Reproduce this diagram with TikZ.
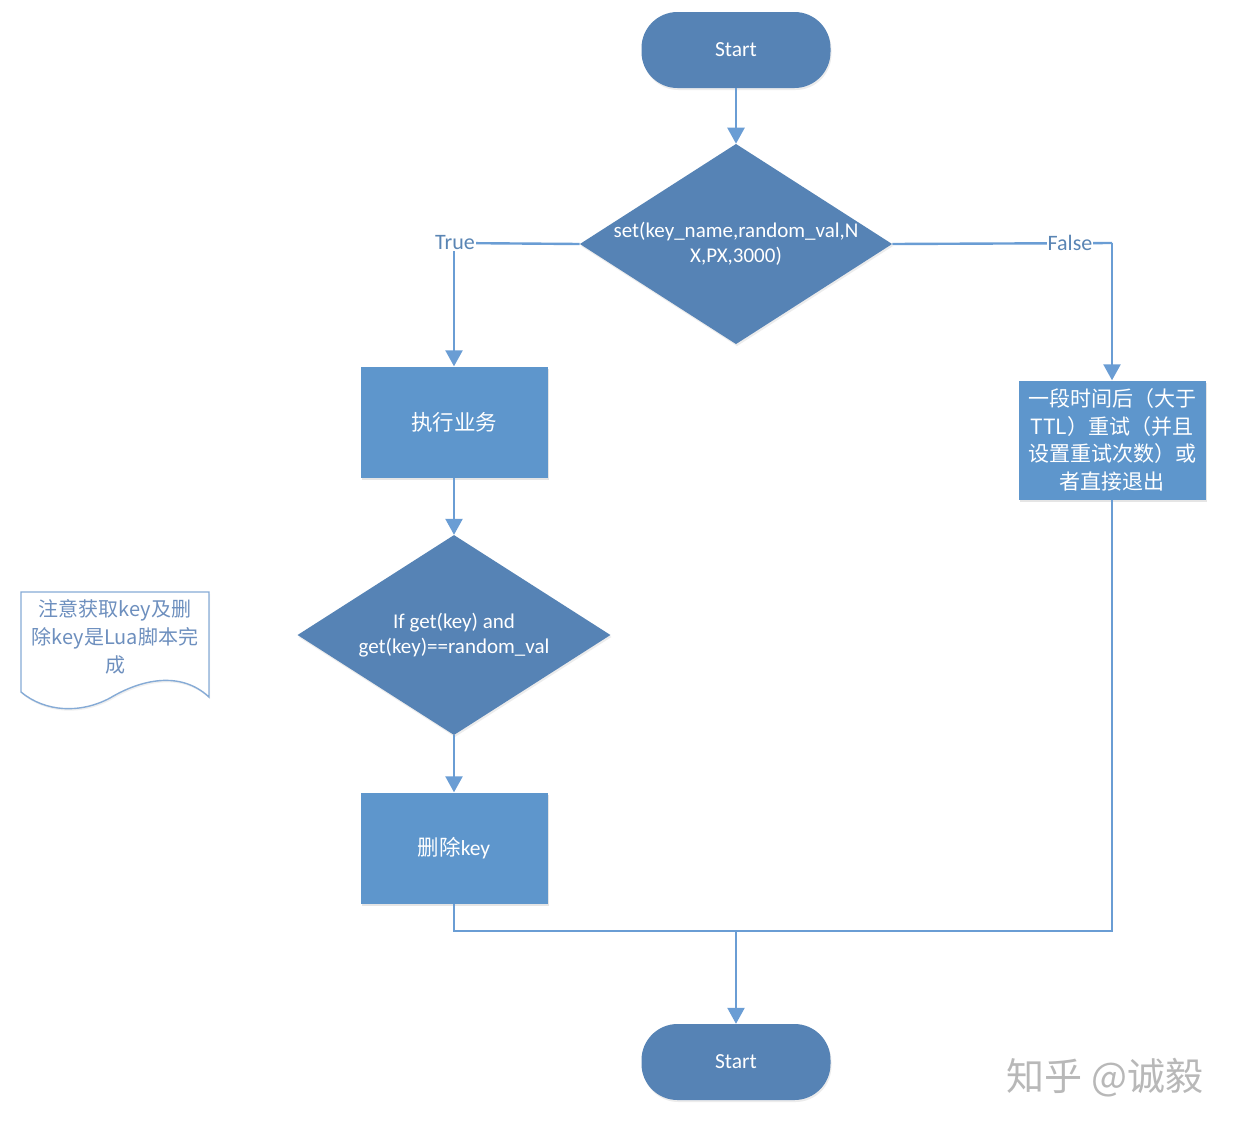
\documentclass[tikz,border=0pt]{standalone}
\usepackage{fontspec}
\setmainfont{Carlito}
\newfontfamily\cjk{Noto Sans CJK SC}
\usetikzlibrary{arrows.meta,shapes.geometric,shadows}
\definecolor{boxblue}{HTML}{5E96CC}
\definecolor{darkblue}{HTML}{5683B5}
\definecolor{lineblue}{HTML}{6A9DD4}
\definecolor{notetext}{HTML}{6D8FBE}
\definecolor{noteline}{HTML}{86ABD6}
\tikzset{
  x=1pt,y=-1pt,
  term/.style={draw=none,fill=darkblue,rounded corners=36pt,minimum width=189pt,minimum height=76pt,text=white,font=\fontsize{21.5}{24}\selectfont,drop shadow={shadow xshift=1pt,shadow yshift=-2pt,opacity=0.15}},
  dec/.style={diamond,draw=none,fill=darkblue,aspect=1.56,inner sep=0pt,text=white,align=center,font=\fontsize{21}{25}\selectfont,drop shadow={shadow xshift=1pt,shadow yshift=-2pt,opacity=0.15}},
  proc/.style={draw=none,fill=boxblue,minimum width=187pt,minimum height=111pt,text=white,align=center,drop shadow={shadow xshift=1pt,shadow yshift=-2pt,opacity=0.2}},
  conn/.style={draw=lineblue,line width=2.4pt},
  arr/.style={conn,-{Triangle[width=17pt,length=16pt]}},
  lbl/.style={fill=white,inner sep=1pt,text=lineblue!85!black,font=\fontsize{22}{24}\selectfont},
}
\begin{document}
\begin{tikzpicture}
\useasboundingbox (0,0) rectangle (1234,1128);
\fill[white] (0,0) rectangle (1234,1128);

% nodes
\node[term] (start) at (736,50) {Start};
\node[dec,minimum width=311pt,minimum height=199pt] (d1) at (736,244) {set(key\_name,random\_val,N\\X,PX,3000)};
\node[proc,font=\cjk\fontsize{21.5}{27}\selectfont] (biz) at (454,422) {执行业务};
\node[dec,minimum width=313pt,minimum height=200pt] (d2) at (454,635) {If get(key) and\\get(key)==random\_val};
\node[proc,font=\fontsize{21.5}{27}\selectfont] (del) at (454,848) {{\cjk 删除}key};
\node[proc,minimum width=187pt,minimum height=119pt,font=\cjk\fontsize{21}{27.5}\selectfont] (retry) at (1112,440) {一段时间后（大于\\TTL）重试（并且\\设置重试次数）或\\者直接退出};
\node[term] (end) at (736,1062) {Start};

% note (document shape)
\filldraw[draw=noteline,fill=white,line width=1.4pt,drop shadow={shadow xshift=1pt,shadow yshift=-2pt,opacity=0.12}]
  (21,592) -- (209,592) -- (209,697)
  .. controls (180,670) and (140,680) .. (110,698)
  .. controls (80,714) and (45,712) .. (21,692) -- cycle;
\node[text=notetext,align=center,font=\cjk\fontsize{20}{28}\selectfont] (note) at (115,637) {注意获取key及删\\除key是Lua脚本完\\成};

% connectors
\coordinate (tc) at (454,243);
\coordinate (fc) at (1112,243);
\coordinate (mg) at (736,931);
\draw[arr] (start) -- (d1);
\draw[conn] (d1.west) -- (tc);
\draw[arr] (tc) -- (biz.north);
\draw[conn] (d1.east) -- (fc);
\draw[arr] (fc) -- (retry.north);
\draw[arr] (biz) -- (d2);
\draw[arr] (d2) -- (del);
\draw[conn] (del.south) |- (mg) -| (retry.south);
\draw[arr] (mg) -- (end);
\node[lbl] (tl) at (455,243) {True};
\node[lbl] (fl) at (1070,243) {False};

% watermark
\node[text=black!28,font=\cjk\fontsize{38}{40}\selectfont] (wm) at (1105,1078) {知乎 @诚毅};
\end{tikzpicture}
\end{document}
